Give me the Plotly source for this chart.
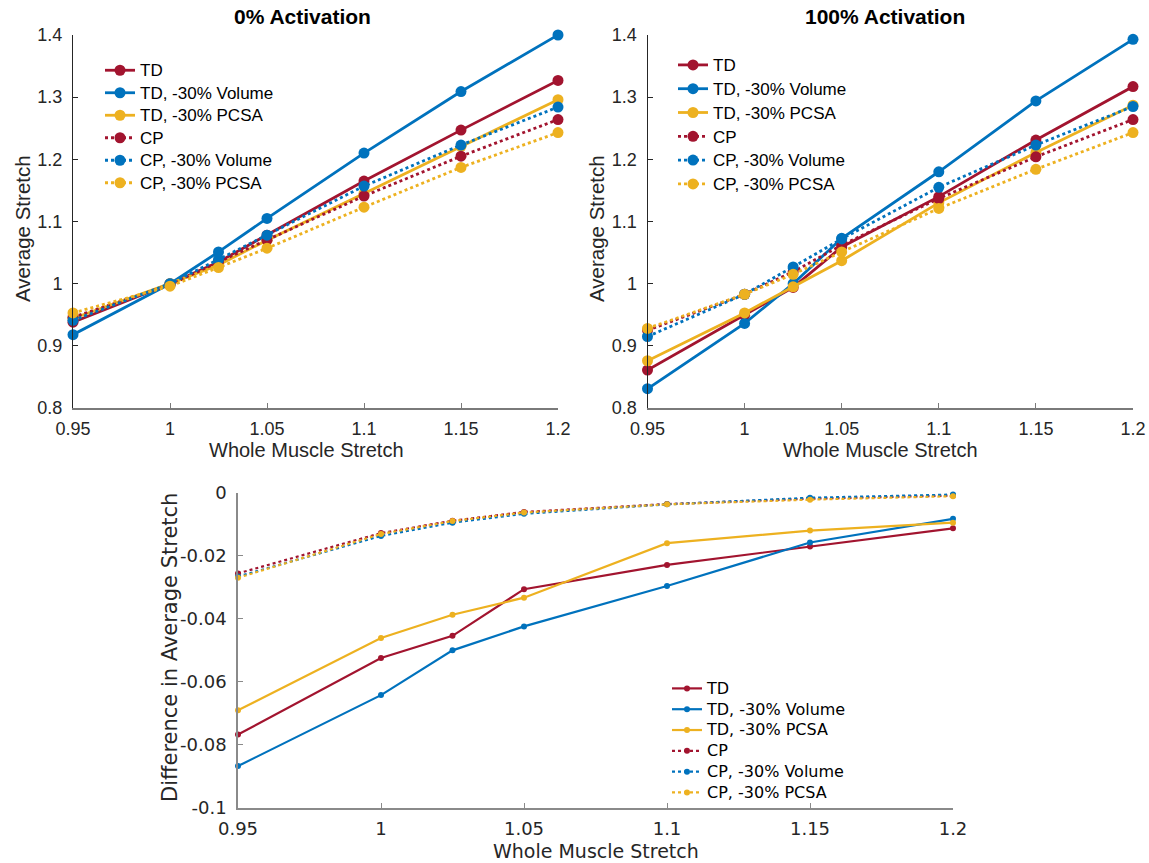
import plotly.graph_objects as go

# Whole muscle stretch levels
stretch = [0.95, 1.0, 1.025, 1.05, 1.1, 1.15, 1.2]

series_names = ["TD", "TD, -30% Volume", "TD, -30% PCSA",
                "CP", "CP, -30% Volume", "CP, -30% PCSA"]

# Average fibre stretch, 0% activation
passive_td = [0.938, 1.000, 1.035, 1.078, 1.165, 1.247, 1.327]
passive_td_vol = [0.918, 1.000, 1.051, 1.105, 1.210, 1.309, 1.400]
passive_td_pcsa = [0.944, 1.000, 1.030, 1.070, 1.145, 1.221, 1.296]
passive_cp = [0.946, 0.998, 1.035, 1.070, 1.141, 1.205, 1.264]
passive_cp_vol = [0.941, 1.000, 1.039, 1.078, 1.157, 1.223, 1.284]
passive_cp_pcsa = [0.953, 0.996, 1.026, 1.057, 1.123, 1.187, 1.243]

# Average fibre stretch, 100% activation
active_td = [0.861, 0.949, 0.994, 1.059, 1.140, 1.231, 1.317]
active_td_vol = [0.831, 0.936, 1.000, 1.073, 1.180, 1.294, 1.393]
active_td_pcsa = [0.876, 0.953, 0.995, 1.037, 1.130, 1.211, 1.287]
active_cp = [0.925, 0.983, 1.019, 1.062, 1.137, 1.204, 1.264]
active_cp_vol = [0.915, 0.983, 1.027, 1.072, 1.155, 1.223, 1.285]
active_cp_pcsa = [0.928, 0.983, 1.015, 1.051, 1.121, 1.184, 1.243]

# Difference in average stretch (100% minus 0% activation)
diff_td = [-0.0767, -0.0524, -0.0454, -0.0306, -0.0229, -0.0171, -0.0113]
diff_td_vol = [-0.0867, -0.0642, -0.0500, -0.0424, -0.0296, -0.0158, -0.0083]
diff_td_pcsa = [-0.0690, -0.0461, -0.0387, -0.0333, -0.0160, -0.0120, -0.0095]
diff_cp = [-0.0256, -0.0128, -0.0089, -0.0061, -0.0036, -0.0019, -0.0009]
diff_cp_vol = [-0.0266, -0.0137, -0.0095, -0.0067, -0.0037, -0.0016, -0.0006]
diff_cp_pcsa = [-0.0270, -0.0131, -0.0090, -0.0063, -0.0037, -0.0022, -0.0011]

# Tick labels
x_tickvals = [0.95, 1.0, 1.05, 1.1, 1.15, 1.2]
x_ticktext = ["0.95", "1", "1.05", "1.1", "1.15", "1.2"]
y_tickvals = [0.8, 0.9, 1.0, 1.1, 1.2, 1.3, 1.4]
y_ticktext = ["0.8", "0.9", "1", "1.1", "1.2", "1.3", "1.4"]
d_tickvals = [-0.1, -0.08, -0.06, -0.04, -0.02, 0.0]
d_ticktext = ["-0.1", "-0.08", "-0.06", "-0.04", "-0.02", "0"]

RED = "#A2142F"
BLUE = "#0072BD"
YELLOW = "#EDB120"
colors = [RED, BLUE, YELLOW, RED, BLUE, YELLOW]
dashes = ["solid", "solid", "solid", "dot", "dot", "dot"]

W, H = 1149, 863
TOP_FONT = "Liberation Sans, Arial, Helvetica, sans-serif"
BOT_FONT = "DejaVu Sans, sans-serif"
TEXT = "#262626"


def entry(text, size):
    # legend rows keep a compact line height; the label itself is drawn larger
    return f'<span style="font-size:{size}px">{text}</span>'


fig = go.Figure()

panels = [
    ("x", "y", "legend", [passive_td, passive_td_vol, passive_td_pcsa,
                          passive_cp, passive_cp_vol, passive_cp_pcsa],
     2.8, 11, 17),
    ("x2", "y2", "legend2", [active_td, active_td_vol, active_td_pcsa,
                             active_cp, active_cp_vol, active_cp_pcsa],
     2.8, 11, 17),
    ("x3", "y3", "legend3", [diff_td, diff_td_vol, diff_td_pcsa,
                             diff_cp, diff_cp_vol, diff_cp_pcsa],
     2.2, 6, 16),
]

for xa, ya, lg, data, lw, ms, fs in panels:
    for name, vals, col, dash in zip(series_names, data, colors, dashes):
        fig.add_trace(go.Scatter(
            x=stretch, y=vals, name=entry(name, fs), mode="lines+markers",
            line=dict(color=col, width=lw, dash=dash),
            marker=dict(color=col, size=ms),
            xaxis=xa, yaxis=ya, legend=lg, cliponaxis=False,
        ))


def px_x(p):
    return p / W


def px_y(p):
    return 1 - p / H


def top_axes(domain_x, anchor_x, anchor_y):
    xa = dict(domain=domain_x, anchor=anchor_y, range=[0.95, 1.2],
              tickvals=x_tickvals, ticktext=x_ticktext, ticks="inside",
              ticklen=5, tickcolor="#7a7a7a", showline=True,
              linecolor="#7a7a7a", linewidth=1.5, showgrid=False,
              zeroline=False, automargin=False, ticklabelstandoff=4,
              tickfont=dict(family=TOP_FONT, size=18, color=TEXT))
    ya = dict(domain=[px_y(408), px_y(35)], anchor=anchor_x,
              range=[0.8, 1.4], tickvals=y_tickvals, ticktext=y_ticktext,
              ticks="inside", ticklen=5, tickcolor=TEXT, showline=True,
              linecolor=TEXT, linewidth=1, showgrid=False,
              zeroline=False, automargin=False, ticklabelstandoff=6,
              tickfont=dict(family=TOP_FONT, size=18, color=TEXT))
    return xa, ya


xa1, ya1 = top_axes([px_x(73), px_x(558)], "x", "y")
xa2, ya2 = top_axes([px_x(647.5), px_x(1133)], "x2", "y2")

xa3 = dict(domain=[px_x(238), px_x(953)], range=[0.95, 1.2], anchor="y3",
           tickvals=x_tickvals, ticktext=x_ticktext, ticks="inside",
           ticklen=5, tickcolor="#8a8a8a", showline=True,
           linecolor="#8a8a8a", linewidth=1.5, showgrid=False,
           zeroline=False, automargin=False, ticklabelstandoff=4,
           tickfont=dict(family=BOT_FONT, size=18, color=TEXT))
ya3 = dict(domain=[px_y(808), px_y(492.7)], range=[-0.1, 0.0], anchor="x3",
           tickvals=d_tickvals, ticktext=d_ticktext, ticks="inside",
           ticklen=5, tickcolor="#8a8a8a", showline=True,
           linecolor="#8a8a8a", linewidth=1.5, showgrid=False,
           zeroline=False, automargin=False, ticklabelstandoff=6,
           tickfont=dict(family=BOT_FONT, size=18, color=TEXT))

legend_common = dict(bgcolor="rgba(0,0,0,0)", borderwidth=0,
                     xanchor="left", yanchor="top", itemwidth=30,
                     tracegroupgap=0)


def label(text, x, y, family, size, angle=0, bold=False, color=TEXT):
    return dict(text=f"<b>{text}</b>" if bold else text,
                x=px_x(x), y=px_y(y), xref="paper", yref="paper",
                showarrow=False, xanchor="center", yanchor="middle",
                textangle=angle, font=dict(family=family, size=size,
                                           color=color))


annotations = [
    # panel titles
    label("0% Activation", 302, 17, TOP_FONT, 21, bold=True, color="#000"),
    label("100% Activation", 885, 17, TOP_FONT, 21, bold=True, color="#000"),
    # axis titles
    label("Whole Muscle Stretch", 306, 450, TOP_FONT, 20),
    label("Whole Muscle Stretch", 880, 450, TOP_FONT, 20),
    label("Average Stretch", 22, 229, TOP_FONT, 20.5, angle=-90),
    label("Average Stretch", 596, 229, TOP_FONT, 20.5, angle=-90),
    label("Whole Muscle Stretch", 596, 851, BOT_FONT, 19),
    label("Difference in Average Stretch", 170, 648, BOT_FONT, 21,
          angle=-90),
]

fig.update_layout(
    width=W, height=H,
    margin=dict(l=0, r=0, t=0, b=0, pad=0, autoexpand=False),
    paper_bgcolor="white", plot_bgcolor="white",
    xaxis=xa1, yaxis=ya1, xaxis2=xa2, yaxis2=ya2, xaxis3=xa3, yaxis3=ya3,
    legend=dict(x=px_x(100), y=px_y(54),
                font=dict(family=TOP_FONT, size=15, color="#000000"),
                **legend_common),
    legend2=dict(x=px_x(673), y=px_y(48),
                 font=dict(family=TOP_FONT, size=16, color="#000000"),
                 **legend_common),
    legend3=dict(x=px_x(667), y=px_y(673),
                 font=dict(family=BOT_FONT, size=13.7, color="#000000"),
                 **legend_common),
    annotations=annotations,
)

fig.write_html("out.html")
